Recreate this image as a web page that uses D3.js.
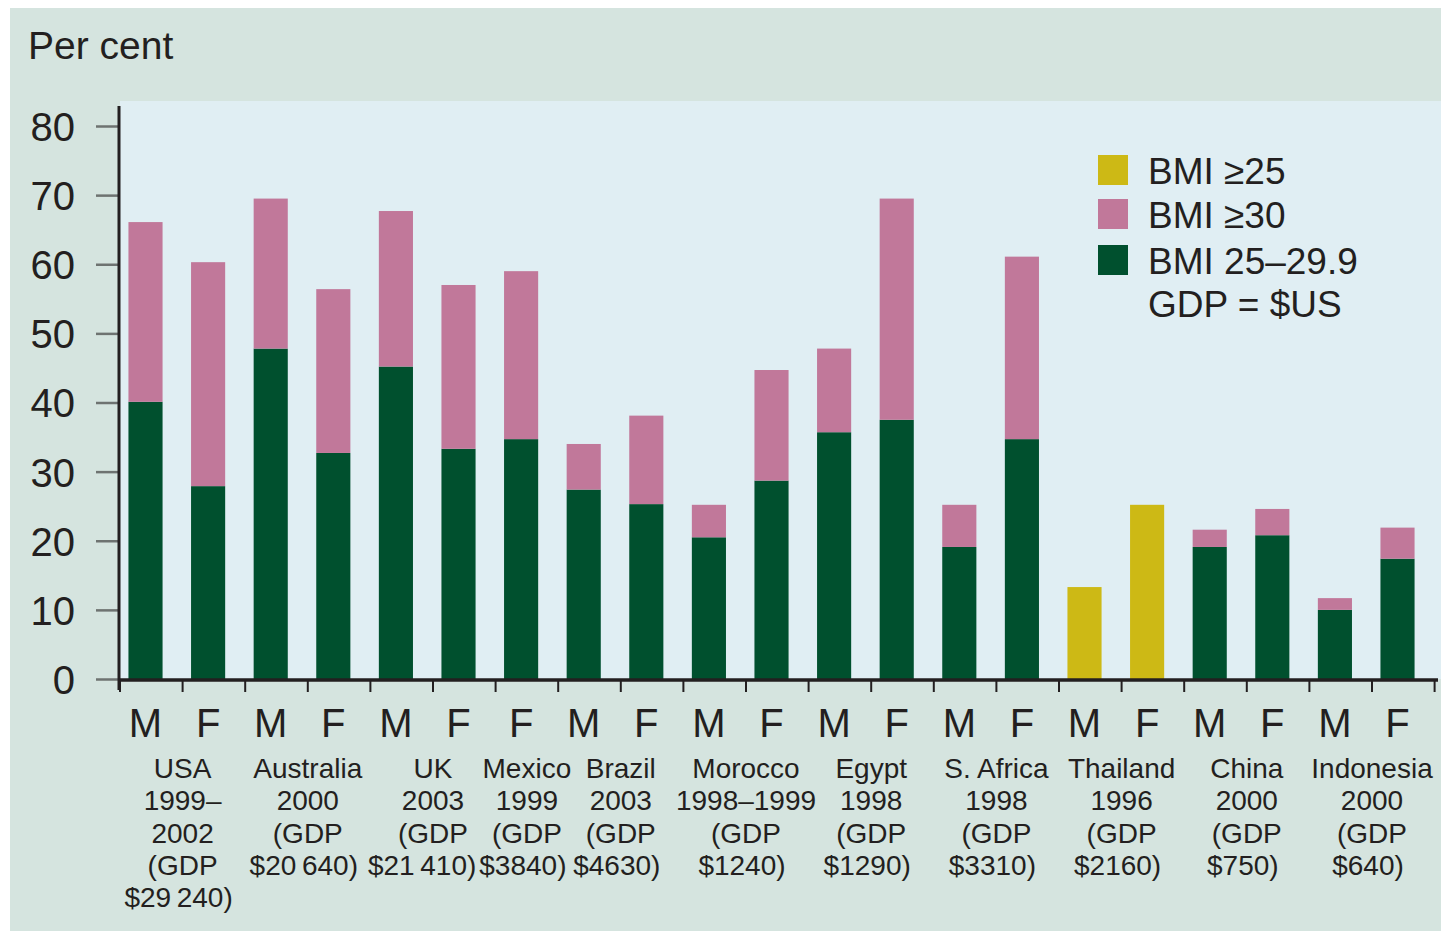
<!DOCTYPE html>
<html>
<head>
<meta charset="utf-8">
<script src="https://cdn.jsdelivr.net/npm/d3@7"></script>
<style>
body { margin: 0; background: #fff; }
svg text { font-family: 'Liberation Sans', Arial, sans-serif; fill: #231f20; }
</style>
</head>
<body>
<div id="chart"></div>
<script>
// one entry per bar, left to right
var sexes = ["M","F","M","F","M","F","F","M","F","M","F","M","F","M","F","M","F","M","F","M","F"];
var groupIndex = [0,0,1,1,2,2,3,4,4,5,5,6,6,7,7,8,8,9,9,10,10];

// BMI 25-29.9 (green) and BMI >=30 (pink, stacked on top)
var bmi25to29 = [40.1,27.9,47.8,32.7,45.2,33.3,34.7,27.4,25.3,20.5,28.7,35.7,37.5,19.1,34.7,null,null,19.1,20.8,10.0,17.4];
var bmi30 = [26.0,32.4,21.7,23.7,22.5,23.7,24.3,6.6,12.8,4.7,16.0,12.1,32.0,6.1,26.4,null,null,2.5,3.8,1.7,4.5];
// BMI >=25 only (Thailand)
var bmi25 = [null,null,null,null,null,null,null,null,null,null,null,null,null,null,null,13.3,25.2,null,null,null,null];

// group labels
var countries = ["USA","Australia","UK","Mexico","Brazil","Morocco","Egypt","S. Africa","Thailand","China","Indonesia"];
var yearLines = [["1999–","2002"],["2000"],["2003"],["1999"],["2003"],["1998–1999"],["1998"],["1998"],["1996"],["2000"],["2000"]];
var gdpLabels = ["$29\u2009240","$20\u2009640","$21\u2009410","$3840","$4630","$1240","$1290","$3310","$2160","$750","$640"];

var yTicks = [0,10,20,30,40,50,60,70,80];
var legendLabels = ["BMI \u226525","BMI \u226530","BMI 25–29.9"];
var legendColors = ["#cdb915","#c1789a","#00502e"];

var width = 1441, height = 931;

var svg = d3.select("#chart")
    .append("svg")
        .attr("width", width)
        .attr("height", height);

// backgrounds
svg.append("rect")
    .attr("x", 10).attr("y", 8)
    .attr("width", width - 10).attr("height", height - 8)
    .style("fill", "#d5e4df");
svg.append("rect")
    .attr("x", 120).attr("y", 101)
    .attr("width", width - 120).attr("height", 578)
    .style("fill", "#e0eef3");

var idx = d3.range(sexes.length);
var x = d3.scaleBand().domain(idx).range([120, 1434.6]).padding(0);
var y = d3.scaleLinear().domain([0, 80]).range([679, 126]);
var step = x.step();
var barX = function(i) { return x(i) + step * 0.135; };
var barW = step * 0.545;

// bars
var bars = svg.append("g");
bars.selectAll(".green")
    .data(idx.filter(function(i) { return bmi25to29[i] != null; }))
    .enter().append("rect")
    .attr("x", barX)
    .attr("width", barW)
    .attr("y", function(i) { return y(bmi25to29[i]); })
    .attr("height", function(i) { return y(0) - y(bmi25to29[i]); })
    .style("fill", legendColors[2]);
bars.selectAll(".pink")
    .data(idx.filter(function(i) { return bmi30[i] != null; }))
    .enter().append("rect")
    .attr("x", barX)
    .attr("width", barW)
    .attr("y", function(i) { return y(bmi25to29[i] + bmi30[i]); })
    .attr("height", function(i) { return y(bmi25to29[i]) - y(bmi25to29[i] + bmi30[i]); })
    .style("fill", legendColors[1]);
bars.selectAll(".yellow")
    .data(idx.filter(function(i) { return bmi25[i] != null; }))
    .enter().append("rect")
    .attr("x", barX)
    .attr("width", barW)
    .attr("y", function(i) { return y(bmi25[i]); })
    .attr("height", function(i) { return y(0) - y(bmi25[i]); })
    .style("fill", legendColors[0]);

// y axis
var yAxis = d3.axisLeft(y).tickValues(yTicks).tickSize(22).tickPadding(21);
var gy = svg.append("g")
    .attr("transform", "translate(118,0)")
    .call(yAxis);
gy.select(".domain").remove();
gy.selectAll(".tick line").style("stroke", "#6e7371").style("stroke-width", 2.5);
gy.selectAll(".tick text").style("font-size", "40px").attr("dy", "0.36em");

svg.append("line")
    .attr("x1", 119).attr("x2", 119)
    .attr("y1", 106).attr("y2", 690)
    .style("stroke", "#231f20").style("stroke-width", 3);

// x axis line + slot ticks
svg.append("line")
    .attr("x1", 118).attr("x2", 1438)
    .attr("y1", 680).attr("y2", 680)
    .style("stroke", "#231f20").style("stroke-width", 3.5);
svg.selectAll(".xtick")
    .data(d3.range(sexes.length + 1))
    .enter().append("line")
    .attr("x1", function(i) { return 120 + i * step; })
    .attr("x2", function(i) { return 120 + i * step; })
    .attr("y1", 680).attr("y2", 692)
    .style("stroke", "#231f20").style("stroke-width", 2);

// M / F labels
svg.selectAll(".sex")
    .data(idx)
    .enter().append("text")
    .attr("x", function(i) { return barX(i) + barW / 2; })
    .attr("y", 737)
    .style("font-size", "40px")
    .style("text-anchor", "middle")
    .text(function(i) { return sexes[i]; });

// country labels, centred under their bars
var gdpNodes = [];
countries.forEach(function(c, g) {
    var members = idx.filter(function(i) { return groupIndex[i] == g; });
    var cx = d3.mean(members, function(i) { return x(i) + step / 2; });
    var lines = [c].concat(yearLines[g]).concat(["(GDP", gdpLabels[g] + ")"]);
    var t = svg.append("text")
        .attr("x", cx)
        .attr("y", 778)
        .style("font-size", "28px")
        .style("text-anchor", "middle");
    lines.forEach(function(l, k) {
        var ts = t.append("tspan")
            .attr("x", k == lines.length - 1 ? cx - 4 : cx)
            .attr("y", 778 + k * 32.3)
            .text(l);
        if (k == lines.length - 1) gdpNodes.push(ts);
    });
});
// nudge GDP lines left where they would run into the next one
for (var g = gdpNodes.length - 2; g >= 0; g--) {
    var a = gdpNodes[g].node().getBBox(), b = gdpNodes[g + 1].node().getBBox();
    var over = a.x + a.width + 3 - b.x;
    if (over > 0) gdpNodes[g].attr("x", +gdpNodes[g].attr("x") - over);
}

// title
svg.append("text")
    .attr("x", 28).attr("y", 59)
    .style("font-size", "39px")
    .text("Per cent");

// legend
var LXP = 1098, legendY = [155, 199, 245];
svg.selectAll(".key")
    .data(legendColors)
    .enter().append("rect")
    .attr("x", LXP)
    .attr("y", function(d, k) { return legendY[k]; })
    .attr("width", 30).attr("height", 30)
    .style("fill", function(d) { return d; });
var lt = svg.append("text")
    .attr("x", LXP + 50)
    .style("font-size", "37px");
legendLabels.concat(["GDP = $US"]).forEach(function(l, k) {
    lt.append("tspan")
        .attr("x", LXP + 50)
        .attr("y", k < 3 ? legendY[k] + 29 : 317)
        .text(l);
});
</script>
</body>
</html>
